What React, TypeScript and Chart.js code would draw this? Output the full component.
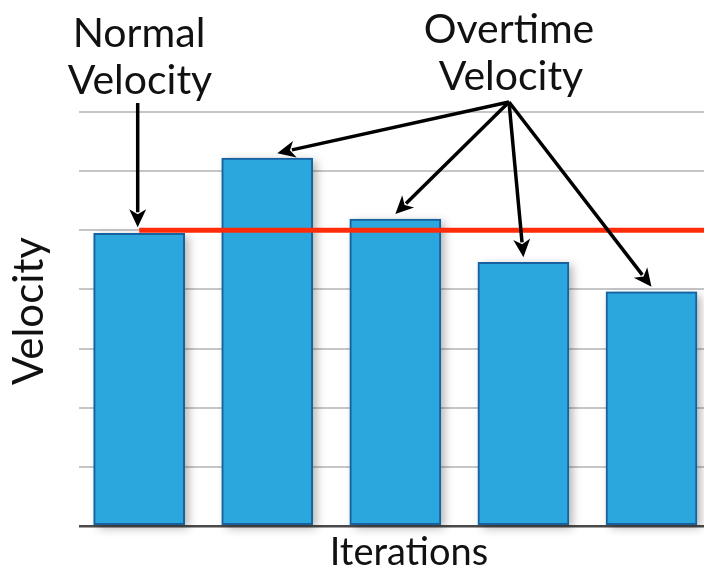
import React, { useEffect, useRef } from "react";
import { Chart, registerables } from "chart.js";

Chart.register(...registerables);

// Iteration numbers and the velocity reached in each one
const iterations = [1, 2, 3, 4, 5];
const velocities = [4.95, 6.22, 5.19, 4.46, 3.96];

// Sustainable ("normal") velocity level
const normalVelocity = 5;

// Value range of the axes
const yMin = 0;
const yMax = 7;
const xMin = 0.53;
const xMax = 5.41;

// Callout texts
const normalLabel = ["Normal", "Velocity"];
const overtimeLabel = ["Overtime", "Velocity"];
const xTitle = "Iterations";
const yTitle = "Velocity";

const FONT_FAMILY = "Lato, 'Open Sans', sans-serif";
const BAR_FILL = "#2ca7de";
const BAR_BORDER = "#17619f";

function drawArrow(
  ctx: CanvasRenderingContext2D,
  x1: number,
  y1: number,
  x2: number,
  y2: number
) {
  const head = 18;
  const half = 8.5;
  const ang = Math.atan2(y2 - y1, x2 - x1);
  const bx = x2 - head * Math.cos(ang);
  const by = y2 - head * Math.sin(ang);
  ctx.beginPath();
  ctx.moveTo(x1, y1);
  ctx.lineTo(bx + 3 * Math.cos(ang), by + 3 * Math.sin(ang));
  ctx.stroke();
  ctx.beginPath();
  ctx.moveTo(x2, y2);
  ctx.lineTo(bx + half * Math.sin(ang), by - half * Math.cos(ang));
  ctx.lineTo(bx + 5 * Math.cos(ang), by + 5 * Math.sin(ang));
  ctx.lineTo(bx - half * Math.sin(ang), by + half * Math.cos(ang));
  ctx.closePath();
  ctx.fill();
}

// Soft drop shadow behind every bar
const barShadow = {
  id: "barShadow",
  beforeDatasetsDraw(chart: any) {
    const ctx = chart.ctx as CanvasRenderingContext2D;
    chart.data.datasets.forEach((ds: any, i: number) => {
      const meta = chart.getDatasetMeta(i);
      if (meta.type !== "bar") return;
      meta.data.forEach((bar: any) => {
        const w = bar.width;
        ctx.save();
        ctx.shadowColor = "rgba(0,0,0,0.30)";
        ctx.shadowBlur = 9;
        ctx.shadowOffsetX = 4;
        ctx.shadowOffsetY = 3;
        ctx.fillStyle = BAR_FILL;
        ctx.fillRect(bar.x - w / 2, bar.y, w, bar.base - bar.y);
        ctx.restore();
      });
    });
  },
};

// Axis titles, callout texts and arrows
const callouts = {
  id: "callouts",
  afterDraw(chart: any) {
    const ctx = chart.ctx as CanvasRenderingContext2D;
    const xs = chart.scales.x;
    const ys = chart.scales.y;
    ctx.save();
    ctx.fillStyle = "#111";
    ctx.textAlign = "center";
    ctx.textBaseline = "alphabetic";

    ctx.font = `41px ${FONT_FAMILY}`;
    ctx.fillText(normalLabel[0], 139, 47);
    ctx.fillText(normalLabel[1], 140, 94);
    ctx.fillText(overtimeLabel[0], 509, 43);
    ctx.fillText(overtimeLabel[1], 511, 90);

    ctx.font = `38px ${FONT_FAMILY}`;
    ctx.fillText(xTitle, 409, 565);

    ctx.font = `42px ${FONT_FAMILY}`;
    ctx.save();
    ctx.translate(43, 311);
    ctx.rotate(-Math.PI / 2);
    ctx.fillText(yTitle, 0, 0);
    ctx.restore();

    ctx.strokeStyle = "#000";
    ctx.fillStyle = "#000";
    ctx.lineWidth = 3.5;
    ctx.lineCap = "butt";

    // Normal velocity arrow, down onto the first iteration
    const nx = xs.getPixelForValue(iterations[0]) - 1.5;
    const ny = ys.getPixelForValue(velocities[0]) - 6;
    drawArrow(ctx, nx, 103, nx, ny);

    // Overtime arrows, fanning out to the later iterations
    const offsets = [10, 0, 0, 0];
    for (let i = 1; i < iterations.length; i++) {
      const tx = xs.getPixelForValue(iterations[i]) + offsets[i - 1];
      const ty = ys.getPixelForValue(velocities[i]) - 5;
      drawArrow(ctx, 509, 102, tx, ty);
    }
    ctx.restore();
  },
};

export default function App() {
  const ref = useRef<HTMLCanvasElement | null>(null);

  useEffect(() => {
    if (!ref.current) return;
    const chart = new Chart(ref.current, {
      type: "bar",
      data: {
        datasets: [
          {
            type: "line",
            data: [
              { x: iterations[0], y: normalVelocity },
              { x: xMax, y: normalVelocity },
            ],
            borderColor: "#ff2c0c",
            borderWidth: 5,
            pointRadius: 0,
            order: 0,
          } as any,
          {
            type: "bar",
            data: iterations.map((it, i) => ({ x: it, y: velocities[i] })),
            backgroundColor: BAR_FILL,
            borderColor: BAR_BORDER,
            borderWidth: 2,
            borderSkipped: false,
            barThickness: 91,
            order: 1,
          } as any,
        ],
      },
      options: {
        animation: false,
        responsive: false,
        layout: { padding: { top: 112, right: 0, left: 0, bottom: 0 } },
        plugins: {
          legend: { display: false },
          tooltip: { enabled: false },
        },
        scales: {
          x: {
            type: "linear",
            offset: false,
            min: xMin,
            max: xMax,
            grid: { display: false, drawTicks: false },
            border: { display: false },
            ticks: { display: false },
            afterFit(scale: any) {
              scale.height = 55;
            },
          },
          y: {
            min: yMin,
            max: yMax,
            ticks: { display: false, stepSize: 1 },
            border: { display: false },
            grid: {
              drawTicks: false,
              lineWidth: (c: any) => (c.tick && c.tick.value === 0 ? 2.5 : 2),
              color: (c: any) =>
                c.tick && c.tick.value === 0 ? "#4a4a4a" : "#c6c6c6",
            },
            afterFit(scale: any) {
              scale.width = 79;
            },
          },
        },
      },
      plugins: [barShadow, callouts],
    });
    return () => chart.destroy();
  }, []);

  return (
    <div
      style={{
        position: "fixed",
        left: 0,
        top: 0,
        width: 704,
        height: 581,
        background: "#fff",
        overflow: "hidden",
      }}
    >
      <canvas ref={ref} width={704} height={581} style={{ display: "block" }} />
    </div>
  );
}
